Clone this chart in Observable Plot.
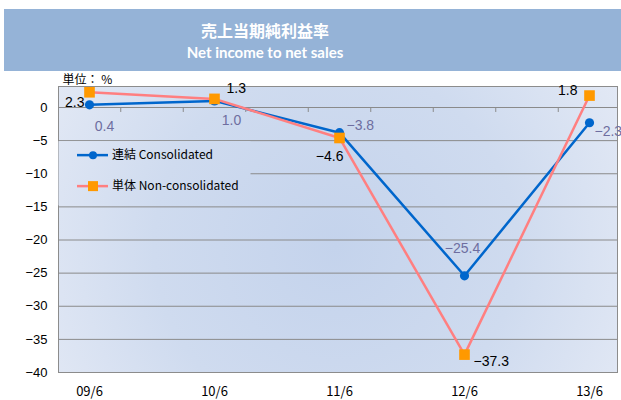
<!DOCTYPE html>
<html>
<head>
<meta charset="utf-8">
<script src="https://cdn.jsdelivr.net/npm/d3@7"></script>
<script src="https://cdn.jsdelivr.net/npm/@observablehq/plot@0.6"></script>
<style>
  html, body { margin: 0; padding: 0; background: #fff; }
  #banner {
    margin: 9px 0 0 4px; width: 617px; height: 62px; background: #95B3D7;
    color: #fff; text-align: center; box-sizing: border-box; padding-right: 95px;
  }
  #banner .t1 { font-family: "Noto Sans CJK JP", sans-serif; font-weight: 700; font-size: 16px; line-height: 16px; padding-top: 13px; }
  #banner .t2 { font-family: Lato, "Open Sans", sans-serif; font-weight: 700; font-size: 15px; line-height: 15px; padding-top: 7px; }
</style>
</head>
<body>
<div id="banner"><div class="t1">売上当期純利益率</div><div class="t2">Net income to net sales</div></div>
<div id="chart"></div>
<script>
// ---- data ----
const categories = ["09/6", "10/6", "11/6", "12/6", "13/6"];
const consolidated = [0.4, 1.0, -3.8, -25.4, -2.3];
const nonConsolidated = [2.3, 1.3, -4.6, -37.3, 1.8];
const yTicks = [0, -5, -10, -15, -20, -25, -30, -35, -40];
const seriesNames = ["連結 Consolidated", "単体 Non-consolidated"];
const unitLabel = "単位： %";

// ---- layout (label placement per point) ----
const consLabelPos = [
  {dx: 15, dy: 22, a: "middle"}, {dx: 17, dy: 20, a: "middle"}, {dx: 7, dy: -7, a: "start"},
  {dx: -2, dy: -27, a: "middle"}, {dx: 5, dy: 9, a: "start"}
];
const nonLabelPos = [
  {dx: -5, dy: 10, a: "end"}, {dx: 12, dy: -10, a: "start"}, {dx: 4, dy: 19, a: "end"},
  {dx: 9, dy: 7, a: "start"}, {dx: -12, dy: -5, a: "end"}
];

const cons = categories.map((c, i) => ({i, cat: c, v: consolidated[i]}));
const non = categories.map((c, i) => ({i, cat: c, v: nonConsolidated[i]}));
const fmt = d3.format(".1f");
const gridVals = yTicks.filter(v => v < 0 && v > -40);
const zeroTicks = d3.range(0.25, categories.length - 1, 0.5);

const BLUE = "#0066CC", PINK = "#FF7F80", ORANGE = "#FF9900", LBL = "#6E6EA0";
const numFont = "'Liberation Sans', Arial, sans-serif";

const labelMarks = [];
cons.forEach((d, k) => {
  const p = consLabelPos[k];
  labelMarks.push(Plot.text([d], {x: "i", y: "v", text: d => fmt(d.v), dx: p.dx, dy: p.dy, textAnchor: p.a, fill: LBL, fontSize: 14, fontFamily: numFont}));
});
non.forEach((d, k) => {
  const p = nonLabelPos[k];
  labelMarks.push(Plot.text([d], {x: "i", y: "v", text: d => fmt(d.v), dx: p.dx, dy: p.dy, textAnchor: p.a, fill: "#000", fontSize: 14, fontFamily: numFont}));
});

const plot = Plot.plot({
  width: 621,
  height: 329,
  marginTop: 15,
  marginBottom: 28,
  marginLeft: 58,
  marginRight: 4,
  style: {fontFamily: numFont, fontSize: "13px", color: "#000", background: "transparent"},
  x: {domain: [-0.248, 4.224]},
  y: {domain: [-40, 3.17]},
  marks: [
    Plot.frame({fill: "url(#bg)", stroke: "#8c8c8c", strokeWidth: 1}),
    Plot.ruleY(gridVals, {stroke: "#8a8a8a", strokeWidth: 1}),
    Plot.ruleY([0], {stroke: "#8a8a8a", strokeWidth: 1}),
    Plot.ruleX(zeroTicks, {x: d => d, y1: 0, y2: -0.75, stroke: "#8a8a8a"}),
    Plot.axisY({ticks: yTicks, tickSize: 0, tickPadding: 11, tickFormat: d3.format("d"), fontSize: 13, fontFamily: numFont, label: null}),
    Plot.axisX({ticks: d3.range(categories.length), tickFormat: i => categories[i], tickSize: 0, tickPadding: 14, fontSize: 13, fontFamily: "'Noto Sans CJK JP', sans-serif", label: null}),
    Plot.text([unitLabel], {frameAnchor: "top-left", dx: 4, dy: -11, textAnchor: "start", fontSize: 12, fontFamily: "'Noto Sans CJK JP', sans-serif", fill: "#000"}),
    Plot.line(cons, {x: "i", y: "v", stroke: BLUE, strokeWidth: 2.5}),
    Plot.dot(cons, {x: "i", y: "v", r: 4.6, fill: BLUE}),
    Plot.line(non, {x: "i", y: "v", stroke: PINK, strokeWidth: 2.5}),
    Plot.dot(non, {x: "i", y: "v", symbol: "square", r: 6, fill: ORANGE}),
    ...labelMarks
  ]
});

// gradient background
const svg = d3.select(plot);
const defs = svg.insert("defs", ":first-child");
const g = defs.append("radialGradient").attr("id", "bg").attr("gradientUnits", "userSpaceOnUse")
  .attr("cx", 335).attr("cy", 175).attr("r", 330);
g.append("stop").attr("offset", "0").attr("stop-color", "#c4d3ec");
g.append("stop").attr("offset", "0.55").attr("stop-color", "#cfdbef");
g.append("stop").attr("offset", "1").attr("stop-color", "#e3e9f5");

// legend box
const ys = plot.scale("y");
const boxTop = ys.apply(-5) + 1, boxBottom = ys.apply(-15) - 1;
const lg = svg.append("g").attr("font-family", "'Noto Sans CJK JP', sans-serif").attr("font-size", 12).attr("text-anchor", "start");
lg.append("rect").attr("x", 58.5).attr("y", boxTop).attr("width", 192).attr("height", boxBottom - boxTop).attr("fill", "url(#bg)");
const items = [
  {name: seriesNames[0], stroke: BLUE, marker: "circle"},
  {name: seriesNames[1], stroke: PINK, marker: "square"}
];
items.forEach((it, k) => {
  const y = boxTop + 14 + k * 31;
  lg.append("line").attr("x1", 77).attr("x2", 108).attr("y1", y).attr("y2", y).attr("stroke", it.stroke).attr("stroke-width", 2.5);
  if (it.marker === "circle") lg.append("circle").attr("cx", 93).attr("cy", y).attr("r", 4).attr("fill", BLUE);
  else lg.append("rect").attr("x", 88).attr("y", y - 5).attr("width", 10).attr("height", 10).attr("fill", ORANGE);
  lg.append("text").attr("x", 112).attr("y", y).attr("dy", "0.35em").attr("fill", "#000").text(it.name);
});

document.getElementById("chart").appendChild(plot);
</script>
</body>
</html>
